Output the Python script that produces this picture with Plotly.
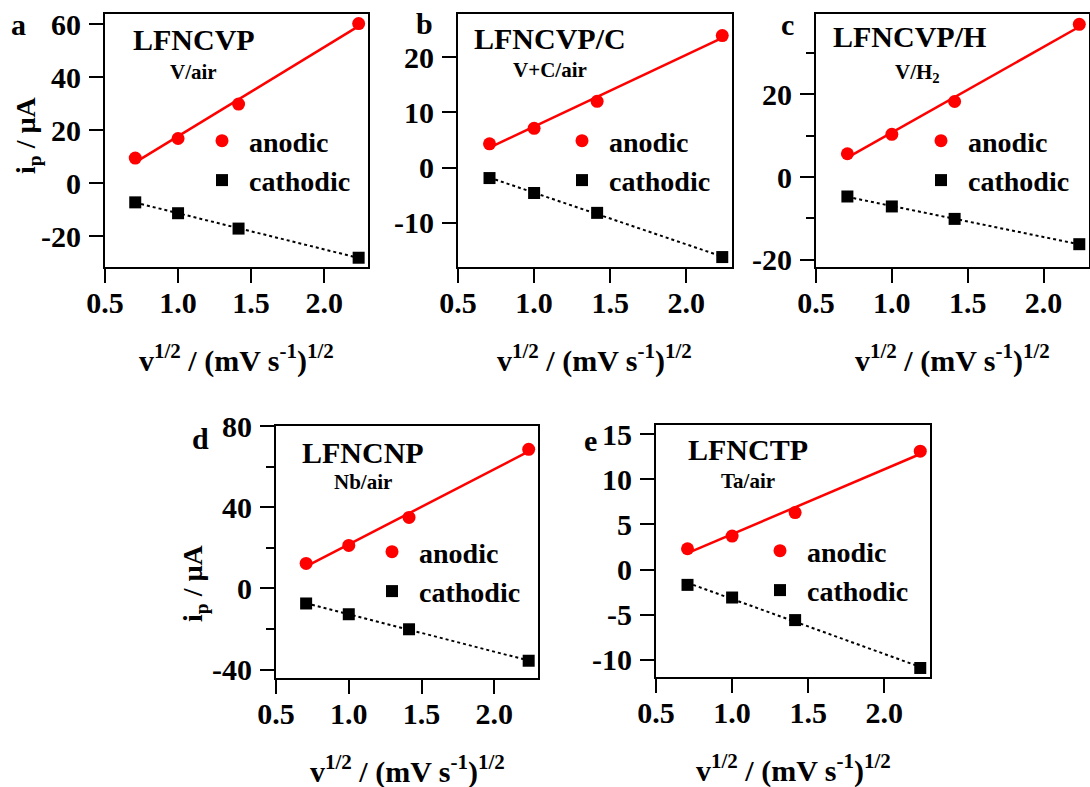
import numpy as np
import plotly.graph_objects as go

W, H = 1090, 787

# square root of the scan rate, (mV s^-1)^1/2
sqrt_rate = [0.707, 1.0, 1.414, 2.236]

# peak currents, µA
anodic_a = [9.4, 16.8, 29.8, 60.2]
cathodic_a = [-7.3, -11.4, -17.2, -28.2]
anodic_b = [4.3, 7.1, 12.0, 23.9]
cathodic_b = [-1.9, -4.6, -8.2, -16.2]
anodic_c = [5.6, 10.3, 18.2, 36.8]
cathodic_c = [-4.7, -7.1, -10.1, -16.2]
anodic_d = [12.3, 21.2, 35.0, 68.5]
cathodic_d = [-7.4, -12.7, -20.1, -35.6]
anodic_e = [2.3, 3.7, 6.3, 13.1]
cathodic_e = [-1.7, -3.1, -5.6, -10.9]

panel_letters = ["a", "b", "c", "d", "e"]
sample_names = ["LFNCVP", "LFNCVP/C", "LFNCVP/H", "LFNCNP", "LFNCTP"]
conditions = ["V/air", "V+C/air", "V/H<sub>2</sub>", "Nb/air", "Ta/air"]

x_tickvals = [0.5, 1.0, 1.5, 2.0]
x_ticktext = ["0.5", "1.0", "1.5", "2.0"]
y_tickvals = [
    [-20, 0, 20, 40, 60],
    [-10, 0, 10, 20],
    [-20, 0, 20],
    [-40, 0, 40, 80],
    [-10, -5, 0, 5, 10, 15],
]
y_minor = [None, None, 10, 20, None]
y_ranges = [[-31.7, 63.8], [-18.0, 27.8], [-21.7, 39.3], [-44.1, 80.0], [-11.9, 16.0]]
x_range = [0.5, 2.3]

anodic = [anodic_a, anodic_b, anodic_c, anodic_d, anodic_e]
cathodic = [cathodic_a, cathodic_b, cathodic_c, cathodic_d, cathodic_e]

# plot-box positions in pixels: left, right, top, bottom
boxes = [
    (105, 368, 14, 267),
    (458, 732, 14, 267),
    (816, 1089, 14, 267),
    (276, 538, 426, 678),
    (656, 930, 425, 677),
]
# legend marker centre (x) and top of the legend block (y), pixels
legend_pos = [(222, 116), (582, 116), (941, 116), (392, 527), (780, 526)]

FONT = "Liberation Serif"
RED = "#ff0000"


def px_x(v):
    return v / W


def px_y(v):
    return 1 - v / H


fig = go.Figure()
annotations = []
layout = {}

for i in range(5):
    sfx = "" if i == 0 else str(i + 1)
    xa, ya = "x" + sfx, "y" + sfx
    leg = "legend" + sfx
    x = np.array(sqrt_rate)
    ya_vals = np.array(anodic[i])
    yc_vals = np.array(cathodic[i])

    # least-squares lines through each series
    pa = np.polyfit(x, ya_vals, 1)
    pc = np.polyfit(x, yc_vals, 1)
    xl = np.array([x[0], x[-1]])

    fig.add_trace(go.Scatter(x=xl, y=np.polyval(pa, xl), mode="lines",
                             line=dict(color=RED, width=2.5),
                             xaxis=xa, yaxis=ya, showlegend=False, hoverinfo="skip"))
    fig.add_trace(go.Scatter(x=xl, y=np.polyval(pc, xl), mode="lines",
                             line=dict(color="black", width=2, dash="3px,3px"),
                             xaxis=xa, yaxis=ya, showlegend=False, hoverinfo="skip"))
    fig.add_trace(go.Scatter(x=x, y=ya_vals, mode="markers", name="anodic",
                             marker=dict(symbol="circle", size=13, color=RED),
                             xaxis=xa, yaxis=ya, legend=leg))
    fig.add_trace(go.Scatter(x=x, y=yc_vals, mode="markers", name="cathodic",
                             marker=dict(symbol="square", size=12, color="black"),
                             xaxis=xa, yaxis=ya, legend=leg))

    l, r, t, b = boxes[i]
    axis_common = dict(showline=True, linecolor="black", linewidth=2, mirror=True,
                       ticks="outside", ticklen=14, tickwidth=2, tickcolor="black",
                       showgrid=False, zeroline=False, automargin=False,
                       tickfont=dict(family=FONT, size=30, color="black", weight="bold"))
    layout["xaxis" + sfx] = dict(axis_common, domain=[px_x(l), px_x(r)], anchor=ya,
                                 range=x_range, tickvals=x_tickvals, ticktext=x_ticktext,
                                 ticklabelstandoff=-6)
    ydict = dict(axis_common, domain=[px_y(b), px_y(t)], anchor=xa,
                 range=y_ranges[i], tickvals=y_tickvals[i],
                 ticktext=[str(v) for v in y_tickvals[i]], ticklabelstandoff=2)
    if y_minor[i]:
        ydict["minor"] = dict(dtick=y_minor[i], tick0=0, ticks="outside", ticklen=8,
                              tickwidth=2, tickcolor="black", showgrid=False)
    layout["yaxis" + sfx] = ydict

    lx, ly = legend_pos[i]
    layout[leg] = dict(x=px_x(lx - 27), y=px_y(ly), xanchor="left", yanchor="top",
                       xref="paper", yref="paper", bgcolor="rgba(0,0,0,0)",
                       itemwidth=44, tracegroupgap=0, itemsizing="trace",
                       font=dict(family=FONT, size=28, color="black", weight="bold"))

    cx = (l + r) / 2
    # x-axis title
    annotations.append(dict(
        x=px_x(cx), y=px_y(b + 91), xref="paper", yref="paper", showarrow=False,
        text="v<sup>1/2</sup> / (mV s<sup>-1</sup>)<sup>1/2</sup>",
        font=dict(family=FONT, size=30, color="black", weight="bold"),
        xanchor="center", yanchor="middle"))

text_pos = {
    "letter": [(18, 25), (424, 23), (787, 25), (200, 438), (590, 440)],
    "name": [(194, 40), (550, 38), (909, 37), (363, 452), (748, 450)],
    "cond": [(193, 72), (550, 70), (917, 73), (363, 482), (748, 481)],
}
for i in range(5):
    lx, ly = text_pos["letter"][i]
    annotations.append(dict(x=px_x(lx), y=px_y(ly), xref="paper", yref="paper",
                            showarrow=False, text=panel_letters[i],
                            font=dict(family=FONT, size=30, color="black", weight="bold"),
                            xanchor="center", yanchor="middle"))
    nx, ny = text_pos["name"][i]
    annotations.append(dict(x=px_x(nx), y=px_y(ny), xref="paper", yref="paper",
                            showarrow=False, text=sample_names[i],
                            font=dict(family=FONT, size=30, color="black", weight="bold"),
                            xanchor="center", yanchor="middle"))
    qx, qy = text_pos["cond"][i]
    annotations.append(dict(x=px_x(qx), y=px_y(qy), xref="paper", yref="paper",
                            showarrow=False, text=conditions[i],
                            font=dict(family=FONT, size=21, color="black", weight="bold"),
                            xanchor="center", yanchor="middle"))

# y-axis titles for the left-hand panels
for (tx, ty) in [(27, 135), (194, 583)]:
    annotations.append(dict(x=px_x(tx), y=px_y(ty), xref="paper", yref="paper",
                            showarrow=False, text="i<sub>p</sub> / µA", textangle=-90,
                            font=dict(family=FONT, size=28, color="black", weight="bold"),
                            xanchor="center", yanchor="middle"))

fig.update_layout(
    width=W, height=H,
    margin=dict(l=0, r=0, t=0, b=0),
    paper_bgcolor="white", plot_bgcolor="white",
    annotations=annotations,
    **layout,
)

fig.write_html("out.html")
